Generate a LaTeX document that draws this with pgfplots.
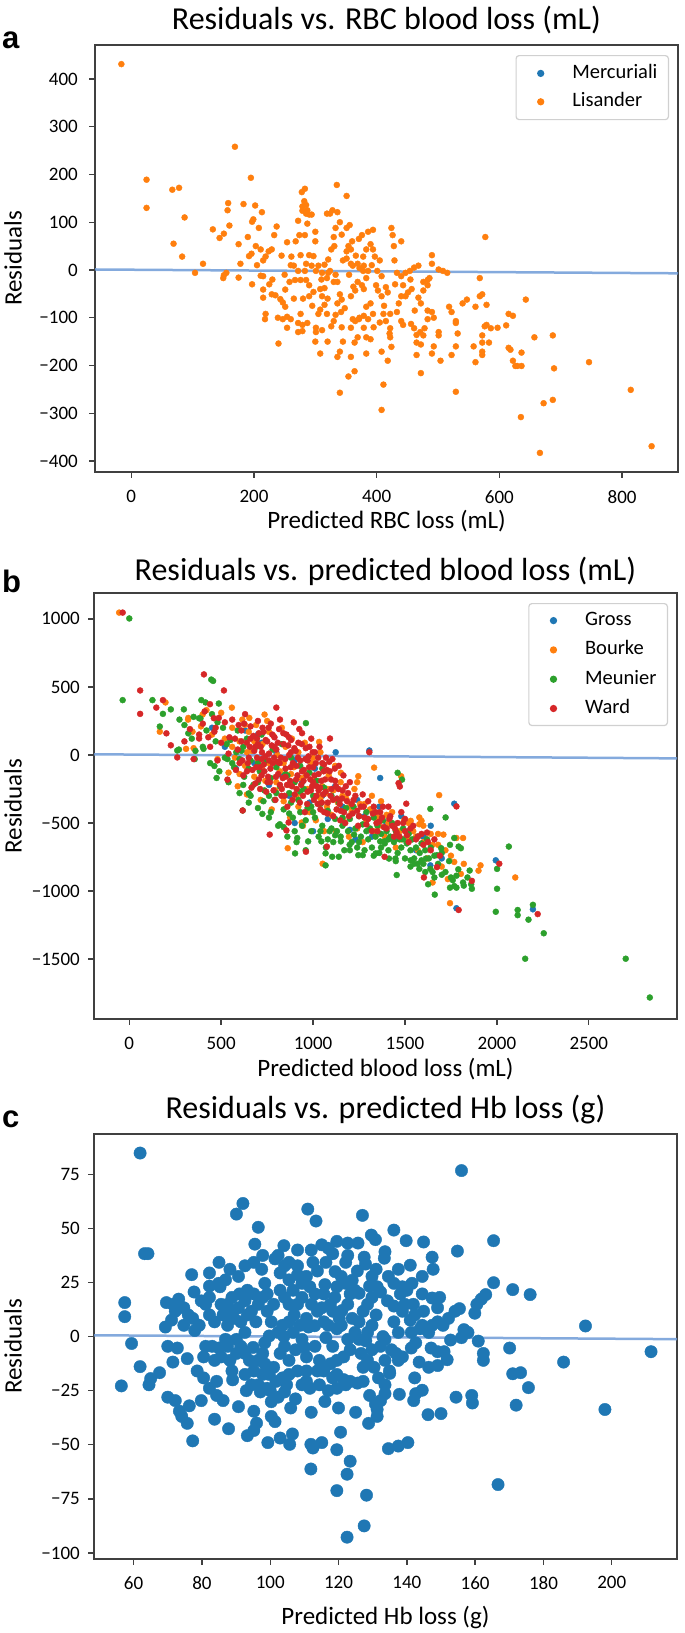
\documentclass[border=0pt]{standalone}
\usepackage{fontspec}
\setmainfont{Carlito}
\newfontfamily\letterfont{Liberation Sans}
\usepackage{pgfplots}
\pgfplotsset{compat=1.18}
\definecolor{tabblue}{HTML}{1F77B4}
\definecolor{taborange}{HTML}{FF7F0E}
\definecolor{tabgreen}{HTML}{2CA02C}
\definecolor{tabred}{HTML}{D62728}
\definecolor{regline}{RGB}{110,155,215}
\definecolor{framec}{HTML}{404040}
\definecolor{legframe}{HTML}{D0D0D0}
\pgfplotsset{
  panel/.style={
    scale only axis, width=583bp,
    /pgf/number format/assume math mode=true,
    /pgf/number format/1000 sep={},
    axis line style={framec, line width=1.8bp},
    tick style={framec, line width=1.4bp},
    tick align=outside, major tick length=5.5bp, tick pos=left,
    ticklabel style={font=\fontsize{19bp}{22bp}\selectfont},
    xticklabel style={inner sep=0pt, anchor=north},
    yticklabel style={inner sep=0pt, anchor=east},
    every axis x label/.style={at={(axis description cs:0.5,0)}, anchor=center, font=\fontsize{25bp}{30bp}\selectfont},
    every axis y label/.style={at={(axis description cs:0,0.5)}, rotate=90, anchor=center, font=\fontsize{25bp}{30bp}\selectfont},
    every axis title/.style={at={(axis description cs:0.5,1)}, anchor=center, font=\fontsize{32bp}{38bp}\selectfont},
    legend style={at={(1,1)}, anchor=north east, xshift=-9bp, yshift=-10bp,
      draw=legframe, line width=1.2bp, rounded corners=3bp, fill=white,
      inner xsep=11bp, font=\fontsize{20.5bp}{24bp}\selectfont,
      nodes={inner sep=0pt, text height=14bp, text depth=4bp}, cells={anchor=west}},
    legend image code/.code={\path (0bp,0bp) (44bp,0bp); \draw[#1] plot coordinates {(13bp,0bp)};},
    scatter/.style={only marks, mark=*, mark size=3bp, mark options={draw=none}},
  }
}
\begin{document}
\begin{tikzpicture}
\useasboundingbox (0,0) rectangle (685bp,-1633bp);
\node[anchor=base west, inner sep=0pt, font=\letterfont\bfseries\fontsize{31bp}{36bp}\selectfont] at (2bp,-48bp) {a};
\node[anchor=base west, inner sep=0pt, font=\letterfont\bfseries\fontsize{31bp}{36bp}\selectfont] at (2bp,-592bp) {b};
\node[anchor=base west, inner sep=0pt, font=\letterfont\bfseries\fontsize{31bp}{36bp}\selectfont] at (2bp,-1127bp) {c};

% ---------------- panel a ----------------
\begin{axis}[panel, at={(95bp,-472bp)}, anchor=south west, height=427bp,
  xmin=-59, xmax=891, ymin=-423, ymax=471,
  xtick={0,200,400,600,800},
  ytick={-400,-300,-200,-100,0,100,200,300,400},
  yticklabels={−400,−300,−200,−100,0,100,200,300,400},
  xticklabel shift=12.5bp, yticklabel shift=11.5bp,
  title style={yshift=25bp}, xlabel style={yshift=-48.7bp}, ylabel style={yshift=82bp},
  title={Residuals vs. RBC blood loss (mL)},
  xlabel={Predicted RBC loss (mL)}, ylabel={Residuals},
  legend style={inner ysep=8.8bp, row sep=10.4bp}]
\addlegendimage{scatter, tabblue}
\addlegendentry{Mercuriali}
\addplot[scatter, taborange] coordinates {
(-16,431) (169,258) (25,189) (25,130) (67,168) (78,172) (195,193) (87,110) (69,55) (83,28) (104,-6) (117,13) (133,85) (144,67) (151,76) (158,140) (157,125) (160,93) (183,138) (175,54) (178,13) (175,-16) (151,-11) (155,-6) (150,-17) (197,101) (199,106) (202,135) (213,121) (208,88) (190,69) (192,29) (196,34) (203,50) (211,43) (215,20) (219,28) (224,39) (229,43) (233,73) (237,91) (215,-13) (211,-12) (197,-30) (215,-41) (215,-58) (219,-92) (218,-103) (229,-51) (235,-53) (243,-61) (247,-68) (251,-41) (251,-77) (239,-100) (247,-103) (240,-154) (254,-121) (254,-98) (260,-103) (254,58) (261,28) (265,9) (258,-25) (267,-21) (272,-2) (276,31) (274,73) (272,103) (278,163) (283,170) (279,133) (285,118) (287,125) (290,116) (294,116) (279,124) (282,144) (285,136) (287,97) (283,73) (290,31) (297,29) (285,13) (294,9) (283,-2) (276,-21) (285,-21) (290,-32) (290,-55) (297,-46) (276,-92) (272,-111) (279,-115) (287,-111) (279,-128) (272,-130) (305,-92) (308,-83) (319,-92) (308,-175) (301,-121) (301,-130) (311,-126) (315,-73) (311,-55) (308,-40) (315,-38) (319,-17) (301,-2) (311,-6) (305,9) (315,11) (321,-6) (324,-2) (321,22) (326,43) (331,50) (330,69) (333,88) (336,121) (324,118) (319,118) (328,125) (335,178) (351,155) (351,88) (356,94) (343,74) (354,50) (351,39) (358,43) (351,24) (358,13) (361,9) (369,13) (372,4) (379,9) (378,-2) (386,-2) (383,-17) (369,-25) (376,-32) (379,-40) (365,-43) (358,-55) (343,-62) (340,-51) (336,-25) (333,-10) (330,-25) (336,-70) (333,-94) (342,-88) (330,-107) (326,-118) (343,-120) (365,-107) (372,-100) (379,-96) (386,-103) (383,-77) (390,-70) (394,-92) (371,-103) (361,-103) (358,-121) (379,-121) (364,-152) (369,-141) (383,-141) (358,-182) (340,-171) (336,-182) (354,-223) (364,-212) (340,-257) (383,-175) (390,-145) (371,65) (376,73) (386,80) (394,84) (390,54) (394,43) (397,28) (383,43) (378,28) (401,-2) (408,-13) (399,-32) (402,-43) (408,-55) (415,-36) (418,-47) (411,-92) (422,-92) (415,-107) (422,-122) (421,-133) (422,-141) (424,-161) (408,-171) (418,-190) (411,-240) (408,-293) (424,88) (426,73) (428,50) (429,20) (433,-6) (440,-13) (447,-6) (454,-2) (461,5) (468,9) (443,-32) (447,-55) (451,-47) (440,-55) (433,-88) (440,-107) (443,-115) (456,-113) (461,-122) (465,-136) (471,-130) (465,-152) (472,-156) (476,-137) (478,-122) (483,-103) (483,-85) (472,-70) (468,-58) (476,-43) (483,-32) (483,-21) (486,-17) (476,-25) (490,13) (490,31) (501,1) (508,-2) (515,-6) (490,-88) (493,-100) (501,-130) (501,-137) (493,-160) (490,-175) (504,-190) (465,-178) (472,-216) (518,-77) (522,-88) (529,-107) (529,-111) (532,-133) (529,-160) (522,-178) (529,-255) (540,-70) (547,-62) (561,-77) (568,-55) (572,-51) (579,-73) (568,-17) (577,69) (579,-115) (572,-137) (576,-118) (572,-152) (583,-152) (572,-171) (558,-160) (561,-193) (572,-178) (586,-122) (597,-121) (611,-116) (615,-92) (622,-96) (615,-163) (618,-167) (622,-190) (626,-201) (629,-201) (636,-201) (636,-173) (643,-62) (635,-308) (657,-141) (666,-383) (672,-279) (687,-137) (689,-206) (687,-272) (746,-193) (814,-251) (848,-369)
(300,60) (310,-20) (320,-60) (345,20) (355,-10) (362,-35) (348,-80) (366,30) (392,10) (405,20) (412,-75) (430,-30) (436,-70) (457,-40) (462,-85) (440,60) (455,-20) (300,-150) (320,-150) (345,-150) (395,-120) (405,-110) (260,10) (250,-10) (245,30) (230,-20) (225,-30) (205,10) (265,-60) (280,-60) (295,-75) (360,60) (340,100) (300,80) (268,60)
};
\addlegendentry{Lisander}
\addplot[regline, line width=2.5bp, opacity=0.85, forget plot] coordinates {(-59,1) (891,-7)};
\end{axis}

% ---------------- panel b ----------------
\begin{axis}[panel, at={(94bp,-1019bp)}, anchor=south west, height=426bp,
  xmin=-192, xmax=2980, ymin=-1940, ymax=1190,
  xtick={0,500,1000,1500,2000,2500},
  ytick={-1500,-1000,-500,0,500,1000},
  yticklabels={−1500,−1000,−500,0,500,1000},
  xticklabel shift=12.2bp, yticklabel shift=8.5bp,
  title style={yshift=22bp}, xlabel style={yshift=-49.6bp}, ylabel style={yshift=81bp},
  title={Residuals vs. predicted blood loss (mL)},
  xlabel={Predicted blood loss (mL)}, ylabel={Residuals},
  legend style={inner ysep=8bp, row sep=11.3bp}]
\addplot[scatter, tabblue] coordinates {
(450,200) (520,60) (580,-100) (630,180) (680,-60) (720,90) (760,-220) (800,20) (830,-150) (870,-300) (900,-40) (940,-200) (980,-350) (1010,-100) (1050,-300) (1080,-470) (1120,-230) (1160,-380) (1200,-550) (1240,-330) (1280,-450) (1320,-600) (1360,-380) (1400,-500) (1440,-620) (1480,-450) (1520,-560) (1560,-700) (1600,-600) (1640,-520) (1700,-760) (1306,33) (1768,-358) (1994,-774) (2196,-1134) (1638,-811) (1365,-169) (1123,20) (1780,-1126) (900,-500) (700,150) (1000,-560) (1230,-620)
};
\addlegendentry{Gross}
\addplot[scatter, taborange] coordinates {
(-55,1046) (197,386) (166,171) (321,272) (309,45) (344,171) (399,297) (558,348) (629,222) (653,272) (736,297) (862,-685) (938,-496) (1033,96) (1052,-799) (1068,-282) (1151,-131) (1246,-156) (1332,-93) (1479,-156) (1578,-509) (1590,-484) (1686,-295) (1709,-585) (1745,-1089) (1768,-786) (1780,-610) (1804,-874) (1733,-912) (1911,-811) (2100,-900) (1816,-610) (1650,-937) (1578,-459) (1531,-484)
(320,260) (350,50) (390,210) (420,330) (450,150) (480,-30) (500,310) (520,120) (540,-130) (560,200) (575,-20) (590,-230) (600,100) (615,260) (630,-80) (640,-290) (650,170) (665,30) (680,-160) (690,220) (700,-40) (715,-330) (725,80) (740,-190) (750,250) (760,-60) (775,-400) (785,140) (795,-260) (805,0) (820,-120) (830,200) (840,-340) (850,60) (865,-220) (875,-460) (885,120) (895,-90) (910,-300) (920,20) (935,-170) (945,-520) (955,90) (970,-250) (980,-420) (990,-60) (1005,-180) (1015,-480) (1025,-300) (1040,20) (1050,-230) (1060,-560) (1075,-380) (1085,-150) (1100,-440) (1110,-260) (1125,-560) (1135,-350) (1150,-200) (1165,-480) (1180,-320) (1195,-600) (1210,-420) (1225,-250) (1240,-540) (1255,-360) (1270,-640) (1290,-480) (1310,-400) (1330,-560) (1350,-460) (1370,-340) (1390,-600) (1410,-500) (1430,-420) (1450,-680) (1470,-560) (1495,-480) (1520,-620) (1545,-560) (1570,-700) (1600,-520) (1620,-760) (1650,-660) (1680,-580) (1700,-820) (1720,-700)
(560,60) (600,-140) (640,20) (680,100) (720,-90) (760,170) (800,-200) (840,-60) (880,-140) (920,-380) (960,-150) (1000,-20) (1040,-320) (1080,-250) (1120,-80) (1160,-300) (1200,-380) (1240,-200) (1280,-360) (1320,-300) (1360,-520) (1400,-440) (1440,-520) (1480,-620) (1520,-500) (1560,-600) (1600,-640) (1640,-580) (1680,-660) (1750,-740) (1820,-800) (1900,-850)
};
\addlegendentry{Bourke}
\addplot[scatter, tabgreen] coordinates {
(0,1003) (-36,403) (126,403) (166,209) (183,302) (226,335) (261,33) (297,335) (273,260) (392,403) (415,386) (446,554) (456,544) (487,378) (387,267) (321,159) (356,-30) (404,45) (463,-81) (475,-169) (534,-30) (582,20) (617,-408) (650,-282) (724,-433) (819,-509) (902,-723) (914,-610) (961,234) (973,-635) (1045,-635) (1068,-811) (1068,-723) (1104,-748) (1140,-748) (1151,-635) (1199,-660) (1223,-585) (1246,-736) (1270,-736) (1341,-723) (1365,-635) (1389,-635) (1413,-761) (1448,-761) (1455,-882) (1460,-131) (1484,-181) (1531,-774) (1550,-799) (1578,-837) (1590,-774) (1614,-761) (1626,-950) (1638,-396) (1662,-1026) (1638,-837) (1674,-736) (1697,-685) (1721,-459) (1745,-975) (1768,-963) (1780,-975) (1792,-673) (1804,-685) (1780,-887) (1816,-937) (1840,-900) (1852,-849) (1864,-983) (1745,-660) (1768,-610) (1994,-1152) (2001,-837) (2001,-983) (2065,-673) (2113,-1139) (2113,-1177) (2172,-1210) (2196,-1101) (2255,-1310) (2154,-1497) (2701,-1497) (2832,-1782)
(300,220) (340,120) (360,30) (380,270) (420,180) (440,-60) (450,300) (470,100) (490,-120) (510,200) (520,-20) (540,-200) (550,110) (570,-90) (590,180) (600,-280) (610,30) (625,-160) (640,120) (650,-350) (660,-40) (675,-220) (690,60) (700,-390) (710,-120) (720,150) (735,-260) (745,-40) (760,-460) (770,-170) (780,40) (790,-330) (800,-90) (810,-520) (820,-230) (830,80) (840,-400) (850,-140) (860,-600) (870,-280) (880,-20) (890,-460) (900,-200) (910,-640) (920,-330) (930,-80) (940,-520) (950,-250) (960,-700) (970,-390) (980,-130) (990,-560) (1000,-300) (1010,-460) (1020,-190) (1030,-600) (1040,-360) (1050,-520) (1060,-240) (1070,-680) (1080,-410) (1090,-560) (1100,-300) (1110,-640) (1120,-470) (1130,-560) (1140,-350) (1150,-600) (1160,-460) (1170,-700) (1180,-390) (1190,-560) (1200,-470) (1210,-640) (1220,-380) (1230,-540) (1240,-680) (1250,-450) (1260,-600) (1270,-510) (1280,-700) (1290,-420) (1300,-620) (1310,-540) (1320,-680) (1330,-460) (1340,-600) (1350,-520) (1360,-720) (1370,-580) (1380,-480) (1390,-650) (1400,-560) (1410,-700) (1420,-600) (1430,-500) (1440,-640) (1450,-560) (1460,-720) (1470,-620) (1480,-680) (1490,-540) (1500,-760) (1510,-650) (1520,-580) (1530,-700) (1540,-620) (1550,-760) (1560,-680) (1570,-600) (1580,-720) (1590,-650) (1600,-800) (1610,-700) (1620,-620) (1630,-760) (1640,-680) (1650,-860) (1660,-740) (1680,-800) (1700,-720) (1720,-860) (1740,-780) (1760,-920) (1790,-840) (1820,-960)
(860,-150) (880,-350) (930,-420) (990,-380) (1050,-100) (1100,-540) (760,-300) (700,-200) (650,-100) (620,60) (560,-60) (530,80) (480,240) (400,60) (350,280) (270,40)
(600,-30) (620,-220) (660,-300) (700,-60) (730,-340) (770,-420) (800,-280) (840,-530) (870,-430) (900,-560) (930,-270) (960,-480) (1000,-420) (1040,-560) (1080,-620) (1120,-590) (1160,-520) (1200,-700) (1250,-640) (1290,-560) (1330,-740) (1370,-680) (1410,-620) (1450,-780) (1490,-620) (1530,-820) (1570,-800) (1610,-860) (1660,-900) (1700,-880) (1750,-900) (1860,-950)
};
\addlegendentry{Meunier}
\addplot[scatter, tabred] coordinates {
(-36,1046) (59,474) (59,302) (147,348) (183,403) (202,159) (226,71) (261,-18) (380,121) (406,592) (439,373) (515,474) (487,272) (463,171) (534,-181) (617,-408) (764,-585) (800,348) (855,-554) (867,-496) (961,-711) (1075,-673) (1092,121) (1306,20) (1465,-207) (1472,-232) (1507,-358) (1780,-378) (1792,-1139) (1864,-925) (2013,-799) (2222,-1169) (1674,-824) (1603,-900) (1389,-748)
(560,260) (575,120) (590,40) (600,-60) (610,180) (620,-150) (630,300) (640,90) (650,-20) (660,210) (665,-240) (675,140) (680,30) (690,-90) (700,250) (705,-180) (715,60) (720,-30) (730,170) (735,-120) (745,-270) (750,100) (760,10) (765,-200) (770,230) (780,-60) (790,130) (795,-330) (800,40) (810,-140) (815,190) (825,-20) (830,-250) (840,80) (850,-100) (855,150) (860,-380) (870,0) (875,-190) (880,110) (890,-60) (895,240) (900,-290) (905,30) (915,-150) (920,90) (930,-40) (935,-220) (940,160) (950,-110) (955,-420) (960,50) (970,-270) (975,-10) (985,-180) (990,120) (1000,-90) (1005,-330) (1010,20) (1020,-230) (1030,-140) (1035,60) (1040,-400) (1050,-60) (1055,-290) (1065,-180) (1070,-20) (1080,-350) (1090,-120) (1100,-250) (1110,-450) (1120,-190) (1130,-320) (1140,-80) (1150,-410) (1160,-260) (1175,-500) (1185,-340) (1200,-200) (1215,-430) (1230,-300) (1245,-520) (1260,-380) (1280,-460) (1300,-340) (1320,-560) (1340,-420) (1360,-490) (1380,-380) (1400,-540) (1420,-450) (1440,-600) (1460,-500) (1480,-420) (1500,-560) (1520,-640) (1545,-520) (1570,-600) (1600,-660) (1620,-570) (1640,-700) (1660,-620) (1690,-740)
(640,-120) (655,60) (685,-210) (695,120) (710,-90) (725,200) (740,-10) (755,-160) (775,70) (785,-260) (805,-50) (820,260) (835,-170) (845,-300) (865,70) (885,-230) (910,-80) (925,190) (945,-300) (965,-150) (980,60) (995,-230) (1015,-60) (1025,-360) (1045,-190) (1060,-420) (1075,-110) (1095,-300) (1105,-30) (1125,-230) (1145,-360) (1165,-150) (1190,-280) (1210,-360) (1240,-410) (1270,-290) (1290,-510) (1330,-380) (1350,-560) (1375,-460) (1410,-380) (1430,-520) (1455,-570) (1490,-500) (1510,-590)
(470,200) (500,90) (520,240) (540,10) (545,130) (580,-110) (595,220) (615,-40) (380,150) (410,320) (440,60) (460,270) (300,100) (330,190) (350,-30) (400,230) (430,130) (480,-40)
(610,100) (625,230) (645,-60) (660,120) (670,-110) (685,60) (695,-20) (705,160) (712,-250) (722,20) (732,-70) (742,110) (752,-200) (758,200) (768,-100) (778,150) (788,-20) (798,-160) (808,90) (818,-60) (828,-300) (838,160) (848,-30) (858,-220) (868,130) (878,-90) (888,-330) (898,50) (908,-180) (918,-20) (928,-350) (938,80) (948,-190) (958,-30) (968,-360) (978,-90) (988,-260) (998,20) (1008,-150) (1018,-300) (1028,-20) (1038,-240) (1048,-350) (1058,-120) (1068,-270) (1078,-430) (1088,-50) (1098,-180) (1108,-330) (1118,-100) (1128,-400) (1138,-250) (1148,-480) (1158,-320) (1168,-420) (1178,-230) (1195,-450) (1220,-330) (1250,-450) (1275,-380) (1300,-470) (1325,-430) (1345,-500) (1365,-420) (1385,-530) (1415,-470) (1445,-540) (1470,-600) (1500,-470) (1530,-540) (1560,-620) (1590,-580) (1625,-640)
(700,80) (720,-150) (760,-40) (790,60) (820,-220) (850,-160) (880,20) (910,-250) (940,-120) (970,-40) (1000,-200) (1030,-260) (1060,-70)
};
\addlegendentry{Ward}
\addplot[regline, line width=2.5bp, opacity=0.85, forget plot] coordinates {(-192,5) (2980,-25)};
\end{axis}

% ---------------- panel c ----------------
\begin{axis}[panel, at={(94bp,-1559bp)}, anchor=south west, height=425bp,
  xmin=48.4, xmax=219.1, ymin=-102.8, ymax=93.6,
  xtick={60,80,100,120,140,160,180,200},
  ytick={-100,-75,-50,-25,0,25,50,75},
  yticklabels={−100,−75,−50,−25,0,25,50,75},
  xticklabel shift=11.5bp, yticklabel shift=8.5bp,
  title style={yshift=24bp}, xlabel style={yshift=-58bp}, ylabel style={yshift=81bp},
  title={Residuals vs. predicted Hb loss (g)},
  xlabel={Predicted Hb loss (g)}, ylabel={Residuals}]
\addplot[only marks, mark=*, mark size=6.2bp, mark options={draw=none}, tabblue] coordinates {
(61.9,84.8) (156.0,76.7) (90.1,56.6) (92.0,61.5) (96.5,50.5) (95.5,42.7) (111.0,58.9) (113.4,53.4) (127.0,56.0) (129.6,46.9) (130.8,44.8) (136.2,49.2) (139.8,44.3) (144.9,43.7) (165.4,44.3) (154.8,39.5) (63.2,38.3) (64.2,38.3) (57.4,15.7) (57.4,9.2) (59.4,-3.2) (56.4,-22.8) (61.9,-13.9) (64.5,-22.3) (65.0,-19.4) (67.6,-16.7) (69.6,15.7) (69.3,4.4) (71.1,7.6) (70.0,-4.5) (71.5,-11.8) (72.8,-5.3) (70.0,-28.0) (72.2,-29.6) (73.4,-34.5) (74.1,-36.9) (75.7,-40.1) (77.3,-48.2) (76.3,-32.0) (77.0,28.6) (77.7,20.6) (73.2,17.3) (74.7,13.3) (76.0,10.0) (77.9,2.8) (75.7,-10.2) (79.8,-29.6) (78.6,-15.9) (80.5,-19.1) (82.2,-23.9) (84.3,-20.7) (82.2,29.4) (82.2,23.3) (85.0,34.3) (86.9,26.2) (85.3,23.0) (81.1,14.9) (82.2,10.0) (83.7,6.8) (83.0,-4.5) (83.7,-11.0) (85.0,-5.3) (84.3,-27.2) (86.2,-29.6) (83.7,-38.2) (87.8,-42.6) (93.3,-45.8) (95.2,-43.4) (90.7,-32.4) (95.2,-34.5) (96.5,-22.3) (97.1,-25.6) (99.3,-49.0) (102.9,-46.9) (105.7,-49.8) (106.5,-45.0) (100.3,-36.9) (101.4,-39.3) (102.3,-28.0) (104.2,-25.6) (107.4,-28.8) (109.3,-22.3) (111.6,-23.9) (111.9,-49.8) (112.5,-51.5) (115.1,-49.0) (111.9,-61.2) (119.5,-52.3) (120.6,-44.2) (119.5,-71.2) (123.4,-57.6) (122.5,-63.6) (128.2,-73.3) (127.5,-87.5) (122.5,-92.7) (128.8,-40.1) (131.3,-33.7) (130.8,-31.2) (133.6,-26.4) (133.6,-22.3) (134.6,-51.8) (137.5,-50.6) (140.3,-49.0) (137.8,-26.7) (142.0,-29.6) (142.6,-26.4) (144.5,-24.8) (142.3,-19.1) (143.6,-11.8) (146.2,-36.1) (150.0,-35.6) (146.4,-14.2) (154.4,-28.0) (159.0,-27.2) (159.2,-30.7) (166.7,-68.4) (170.1,-5.3) (171.0,-17.2) (173.3,-16.7) (172.0,-31.7) (175.6,-23.6) (171.0,21.7) (176.1,19.4) (185.9,-11.8) (192.3,4.9) (198.0,-33.7) (211.5,-7.0) (165.4,24.9) (163.1,19.4) (161.8,17.3) (160.5,14.9) (159.9,10.8) (156.7,3.2) (155.4,12.9) (160.9,-2.1) (162.4,-7.8) (162.4,-11.0) (156.0,-0.5) (152.8,-1.6) (152.2,8.4) (149.0,6.8) (149.6,18.1) (147.4,17.8) (147.7,31.1) (147.4,36.7) (151.8,-10.7) (149.0,-7.0) (147.1,-5.3) (147.4,5.2) (143.9,3.6) (144.5,5.2) (142.6,-2.9) (141.3,-5.3) (141.0,7.6) (141.5,24.6) (141.0,33.0) (140.0,21.4) (138.7,23.0) (138.1,19.7) (136.2,14.1) (134.6,27.8) (133.4,36.2) (134.3,16.5) (132.3,20.6) (131.3,23.0) (129.1,23.3) (127.9,33.5) (127.5,36.7) (125.7,43.2) (129.8,18.1) (128.5,14.9) (129.8,5.2) (128.5,1.9) (129.8,-6.1) (128.5,-11.0) (127.2,-14.2) (126.6,-7.8) (130.4,-14.2) (131.7,-19.1) (132.3,-4.5) (133.6,-1.3) (135.5,-6.1) (136.8,-7.8) (137.5,-11.0) (138.7,-9.4) (137.5,1.9) (136.2,6.8) (138.7,11.7) (139.4,14.9) (141.9,14.9) (125.5,30.3) (124.8,21.4) (123.4,19.7) (122.7,37.5) (122.1,34.3) (120.8,27.8) (122.1,24.6) (119.5,23.0) (118.3,38.3) (117.0,40.8) (116.3,34.3) (118.9,18.1) (117.6,14.9) (115.7,19.7) (115.1,13.3) (118.3,11.7) (120.2,8.4) (119.5,3.6) (120.8,5.2) (122.7,14.9) (124.0,8.4) (124.8,1.9) (122.7,-1.3) (123.4,-6.1) (121.5,-9.4) (119.5,-11.0) (118.3,-4.5) (116.3,-0.5) (117.0,5.2) (115.7,6.8) (113.8,11.7) (112.1,14.9) (113.1,19.7) (111.6,23.0) (112.5,34.3) (113.8,30.3) (110.6,27.8) (109.3,24.6) (108.0,28.6) (106.7,21.4) (105.5,26.2) (104.2,32.7) (102.9,29.4) (101.4,35.9) (102.9,21.4) (104.2,18.1) (105.5,14.9) (108.0,14.9) (109.3,18.1) (110.6,8.4) (111.2,4.4) (108.7,5.2) (106.7,1.9) (105.5,6.8) (103.6,5.2) (102.3,1.9) (100.3,6.8) (99.1,11.7) (97.8,18.1) (98.4,24.6) (97.5,31.1) (99.1,19.7) (101.0,14.9) (99.7,0.3) (98.4,-2.9) (97.8,-7.8) (96.5,-11.0) (98.4,-12.6) (99.7,-17.5) (101.0,-14.2) (102.9,-7.8) (104.2,-4.5) (105.5,-11.0) (107.4,-6.1) (109.3,-1.3) (110.6,-9.4) (113.1,-4.5) (114.4,-11.0) (113.8,-15.9) (115.7,-14.2) (117.6,-12.6) (119.5,-17.5) (121.5,-19.9) (123.4,-20.7) (125.5,-21.5) (118.3,-19.1) (115.7,-15.9) (110.6,-15.9) (108.0,-15.9) (105.5,-17.5) (103.6,-19.1) (101.7,-20.7) (97.8,-17.5) (95.2,-15.9) (93.9,-11.0) (92.6,-7.8) (91.4,-4.5) (90.1,-1.3) (92.6,1.9) (91.4,6.8) (93.3,10.0) (90.7,13.3) (92.6,16.5) (91.0,19.7) (93.3,21.4) (95.2,19.7) (96.5,14.9) (94.5,11.7) (95.8,6.8) (88.8,18.1) (87.5,14.9) (88.2,11.7) (89.4,8.4) (87.5,5.2) (86.2,10.0) (85.6,14.9) (90.1,-7.8) (88.2,-11.0) (88.8,-15.9) (87.5,-4.5) (85.6,-9.4) (86.9,-1.3) (81.1,-4.5) (80.5,-9.4) (79.2,5.2) (94.5,-22.3) (92.6,-17.5) (99.1,-23.9) (100.3,-30.1) (104.8,-22.3) (110.6,-20.7) (114.4,-22.3) (119.5,-23.9) (122.1,-22.3) (127.2,-20.7) (129.1,-27.2) (131.3,-36.9) (132.3,-29.6) (102.3,37.5) (105.5,34.3) (108.0,32.7) (115.1,42.4) (119.5,44.0) (122.7,43.2) (133.6,39.2) (144.5,27.8) (144.5,19.7) (144.9,11.7) (142.3,10.0) (141.3,1.9) (149.0,13.3) (150.6,5.2) (154.1,11.7) (157.9,1.9) (149.0,-13.4) (150.9,-7.0) (146.4,1.9) (133.6,-11.0) (134.9,-15.9) (126.0,-1.3) (126.0,6.8) (127.2,11.7) (129.8,27.8) (131.0,31.1) (136.2,24.6) (137.5,31.1) (97.8,37.5) (95.2,34.3) (92.6,32.7) (90.7,27.8) (88.2,31.1) (84.9,24.6) (82.2,18.1) (79.8,16.5) (77.3,8.4) (74.7,5.2) (72.2,11.7) (71.5,14.9)
(104,0) (107,10) (110,-5) (113,5) (116,24) (119,30) (121,12) (124,26) (126,20) (128,-2) (131,10) (133,0) (135,-17) (112,-35) (116,-30) (120,-33) (125,-35) (106,-33) (100,-25) (95,-5) (93,-25) (89,-20) (117,-25) (112,40) (108,40) (104,42) (96,-40)
};
\addplot[regline, line width=2.5bp, opacity=0.85, forget plot] coordinates {(48.4,0.6) (219.1,-1.2)};
\end{axis}
\end{tikzpicture}
\end{document}
